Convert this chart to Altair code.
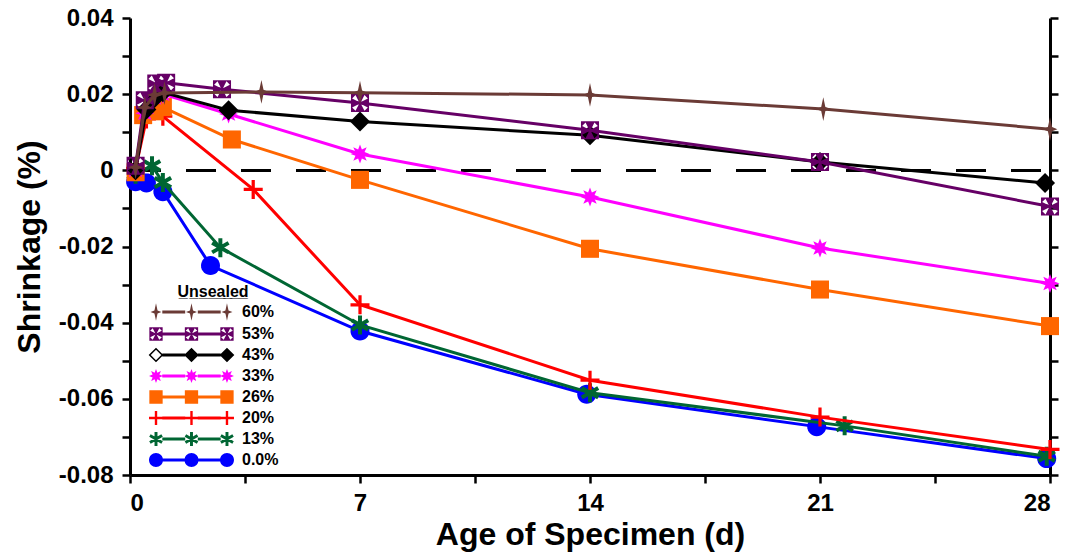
import math
import altair as alt
import pandas as pd

# ---------------- data ----------------
SERIES = ["60%", "53%", "43%", "33%", "26%", "20%", "13%", "0.0%"]
COLORS = ["#6b3b36", "#660066", "#000000", "#ff00ff", "#ff6600", "#ff0000", "#006633", "#0000ff"]

DAYS_60 = [0.17, 0.45, 0.75, 1.05, 4.0, 7.0, 14.0, 21.1, 28.0]
SHR_60 = [0.0008, 0.0165, 0.0198, 0.0203, 0.0206, 0.0204, 0.0198, 0.0161, 0.0108]

DAYS_53 = [0.17, 0.45, 0.8, 1.1, 2.8, 7.0, 14.0, 21.0, 28.0]
SHR_53 = [0.0012, 0.0184, 0.0228, 0.0230, 0.0213, 0.0177, 0.0105, 0.0022, -0.0095]

DAYS_43 = [0.17, 0.5, 0.75, 1.0, 3.0, 7.0, 14.0, 21.0, 27.85]
SHR_43 = [0.0, 0.0160, 0.0190, 0.0205, 0.0158, 0.0128, 0.0092, 0.0022, -0.0033]

DAYS_33 = [0.17, 0.45, 0.75, 1.0, 3.0, 7.0, 14.0, 21.0, 28.0]
SHR_33 = [0.0, 0.0150, 0.0190, 0.0200, 0.0148, 0.0043, -0.0070, -0.0204, -0.0297]

DAYS_26 = [0.17, 0.4, 0.75, 1.0, 3.1, 7.0, 14.0, 21.0, 28.0]
SHR_26 = [-0.0005, 0.0145, 0.0155, 0.0166, 0.0081, -0.0025, -0.0206, -0.0313, -0.0409]

DAYS_20 = [0.17, 0.5, 1.0, 3.75, 7.0, 14.0, 21.0, 28.0]
SHR_20 = [0.0005, 0.0135, 0.0142, -0.0050, -0.0353, -0.0551, -0.0648, -0.0733]

DAYS_13 = [0.17, 0.67, 1.0, 2.75, 7.0, 14.0, 21.75, 27.9]
SHR_13 = [-0.0010, 0.0012, -0.0032, -0.0203, -0.0406, -0.0584, -0.0671, -0.0751]

DAYS_0 = [0.17, 0.5, 1.0, 2.45, 7.0, 13.9, 20.9, 27.9]
SHR_0 = [-0.0030, -0.0033, -0.0056, -0.0250, -0.0422, -0.0588, -0.0673, -0.0757]

X_TICKS = [0, 3.5, 7, 10.5, 14, 17.5, 21, 24.5, 28]
Y_TICKS = [-0.08, -0.07, -0.06, -0.05, -0.04, -0.03, -0.02, -0.01, 0.0, 0.01, 0.02, 0.03, 0.04]

DATA = {
    "60%": (DAYS_60, SHR_60),
    "53%": (DAYS_53, SHR_53),
    "43%": (DAYS_43, SHR_43),
    "33%": (DAYS_33, SHR_33),
    "26%": (DAYS_26, SHR_26),
    "20%": (DAYS_20, SHR_20),
    "13%": (DAYS_13, SHR_13),
    "0.0%": (DAYS_0, SHR_0),
}

rows = []
for s, (ds, vs) in DATA.items():
    for d, v in zip(ds, vs):
        rows.append({"Series": s, "day": d, "value": v})
df = pd.DataFrame(rows)

# ---------------- marker shapes (SVG paths) ----------------
def _area(pts):
    a = 0.0
    for i in range(len(pts)):
        x1, y1 = pts[i]
        x2, y2 = pts[(i + 1) % len(pts)]
        a += x1 * y2 - x2 * y1
    return a / 2


def poly(pts, hole=False):
    a = _area(pts)
    if (a < 0) != hole:
        pts = pts[::-1]
    return "M" + "L".join(f"{x:.3f},{y:.3f}" for x, y in pts) + "Z"


def rot(pts, ang):
    c, s = math.cos(ang), math.sin(ang)
    return [(x * c - y * s, x * s + y * c) for x, y in pts]


def shift(pts, dx):
    return [(x + dx, y) for x, y in pts]


def marker_polys(kind):
    """list of (points, is_hole) in unit coordinates"""
    if kind == "circle":
        return [([(math.cos(2 * math.pi * k / 32), math.sin(2 * math.pi * k / 32)) for k in range(32)], False)]
    if kind == "square":
        h = 0.95
        return [([(-h, -h), (h, -h), (h, h), (-h, h)], False)]
    if kind == "diamond":
        h = 1.05
        return [([(0, -h), (h, 0), (0, h), (-h, 0)], False)]
    if kind == "hollowdiamond":
        h, t = 1.05, 0.75
        return [([(0, -h), (h, 0), (0, h), (-h, 0)], False),
                ([(0, -t), (t, 0), (0, t), (-t, 0)], True)]
    if kind == "plus":
        w = 0.17
        return [([(-1, -w), (-w, -w), (-w, -1), (w, -1), (w, -w), (1, -w), (1, w), (w, w), (w, 1), (-w, 1), (-w, w), (-1, w)], False)]
    if kind == "asterisk":
        w = 0.21
        base = [(-1, -w), (1, -w), (1, w), (-1, w)]
        return [(rot(base, math.radians(a)), False) for a in (90, 30, 150)]
    if kind == "burst":
        pts = []
        for k in range(16):
            r = 1.0 if k % 2 == 0 else 0.52
            a = -math.pi / 2 + k * math.pi / 8
            pts.append((r * math.cos(a), r * math.sin(a)))
        return [(pts, False)]
    if kind == "star4":
        return [([(0, -1.25), (0.22, -0.22), (0.78, 0), (0.22, 0.22), (0, 1.25), (-0.22, 0.22), (-0.78, 0), (-0.22, -0.22)], False)]
    if kind == "squarecross":
        h = 0.95
        out = [([(-h, -h), (h, -h), (h, h), (-h, h)], False)]
        wedge = [(0.1, 0.1), (0.47, 0.83), (0.83, 0.47)]
        for k in range(4):
            out.append((rot(wedge, k * math.pi / 2), True))
        return out
    raise ValueError(kind)


KINDS = {"60%": "star4", "53%": "squarecross", "43%": "diamond", "33%": "burst",
         "26%": "square", "20%": "plus", "13%": "asterisk", "0.0%": "circle"}


def marker_path(kind):
    return "".join(poly(p, h) for p, h in marker_polys(kind))


def legend_path(kind, first_kind=None):
    gap = 5.07   # spacing between the three legend markers (in marker units)
    t = 0.21     # half thickness of the legend line
    parts = []
    for i in range(3):
        k = first_kind if (i == 0 and first_kind) else kind
        for p, h in marker_polys(k):
            parts.append(poly(shift(p, i * gap), h))
    for i in range(2):
        x0, x1 = i * gap + 0.9, (i + 1) * gap - 0.9
        parts.append(poly([(x0, -t), (x1, -t), (x1, t), (x0, t)]))
    return "".join(parts)


LEGEND_PATHS = [legend_path(KINDS[s], "hollowdiamond" if s == "43%" else None) for s in SERIES]

# ---------------- chart ----------------
FONT = "Liberation Sans"
xs = alt.Scale(domain=[0, 28], nice=False, zero=False)
ys = alt.Scale(domain=[-0.08, 0.04], nice=False, zero=False)

x_axis = alt.Axis(values=X_TICKS, labelExpr="datum.value % 7 === 0 ? datum.label : ''", orient="bottom",
                  title="Age of Specimen (d)", labelOverlap=False, titlePadding=4, labelPadding=8)
y_axis_left = alt.Axis(
    values=Y_TICKS, orient="left", labelOverlap=False, title="Shrinkage (%)", titlePadding=12, labelPadding=9,
    labelExpr="abs(round(datum.value*100)) % 2 === 1 ? '' : (abs(datum.value) < 1e-9 ? '0' : "
              "((datum.value < 0 ? '-' : '') + format(abs(datum.value), '.2f')))")
y_axis_right = alt.Axis(values=Y_TICKS, orient="right", labels=False, title="")

base = alt.Chart(df)

zero_rule = base.mark_rule(color="black", strokeWidth=2.5, strokeDash=[30, 25], strokeDashOffset=46).encode(
    y=alt.YDatum(0, scale=ys, axis=None)
)

layers = [zero_rule]
order = list(reversed(SERIES))  # 0.0% drawn first, 60% on top
for i, s in enumerate(order):
    c = COLORS[SERIES.index(s)]
    sub = base.transform_filter(alt.datum.Series == s)
    line = sub.mark_line(color=c, strokeWidth=3).encode(
        x=alt.X("day:Q", scale=xs, axis=x_axis if i == 0 else None),
        y=alt.Y("value:Q", scale=ys, axis=y_axis_left if i == 0 else None),
    )
    pts = sub.mark_point(filled=True, shape=marker_path(KINDS[s]), size=361, color=c, opacity=1, strokeWidth=0).encode(
        x=alt.X("day:Q", scale=xs, axis=None),
        y=alt.Y("value:Q", scale=ys, axis=y_axis_right if i == 0 else None),
    )
    layers += [line, pts]

leg = alt.Legend(
    title="U\u0332n\u0332s\u0332e\u0332a\u0332l\u0332e\u0332d\u0332",
    orient="none", legendX=18, legendY=266, direction="vertical",
    titleFont=FONT, titleFontSize=16, titleFontWeight="bold", titleColor="black",
    titleAnchor="middle", titlePadding=4,
    labelFont=FONT, labelFontSize=16, labelFontWeight="bold", labelColor="black",
    labelOffset=78, symbolSize=196, symbolStrokeWidth=0, rowPadding=5, padding=0,
)
legend_layer = base.transform_filter("false").mark_point(filled=True, size=196, opacity=1, strokeWidth=0).encode(
    color=alt.Color("Series:N", scale=alt.Scale(domain=SERIES, range=COLORS), legend=leg),
    shape=alt.Shape("Series:N", scale=alt.Scale(domain=SERIES, range=LEGEND_PATHS), legend=leg),
)
layers.append(legend_layer)

chart = alt.layer(*layers).resolve_axis(x="independent", y="independent").properties(
    width=920, height=457,
    autosize=alt.AutoSizeParams(type="none"),
    padding={"left": 122, "top": 10, "right": 10, "bottom": 81},
).configure_axis(
    domainColor="black", domainWidth=3, tickColor="black", tickWidth=2.5, tickSize=8,
    labelFont=FONT, labelFontSize=24, labelFontWeight="bold", labelColor="black",
    titleFont=FONT, titleFontSize=32, titleFontWeight="bold", titleColor="black", grid=False,
).configure_view(stroke="transparent")

chart.save("out.html", embed_options={"renderer": "svg", "actions": False})
